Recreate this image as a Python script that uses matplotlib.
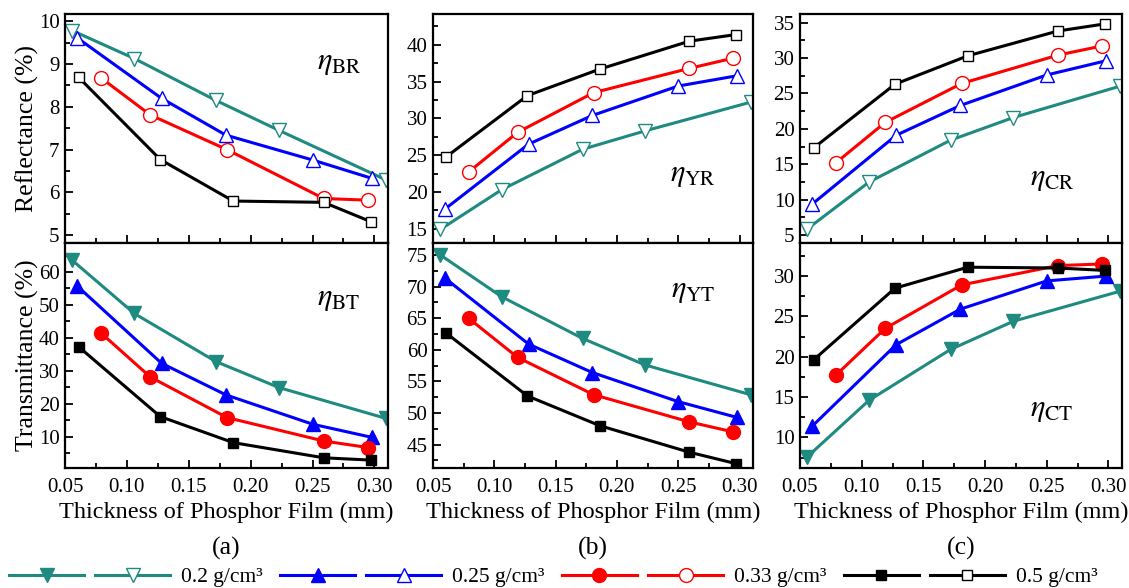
import matplotlib
matplotlib.use("Agg")
import matplotlib.pyplot as plt
from matplotlib.lines import Line2D
from matplotlib.legend_handler import HandlerTuple
from matplotlib.ticker import MultipleLocator, AutoMinorLocator

plt.rcParams["font.family"] = "serif"
plt.rcParams["font.serif"] = ["Liberation Serif", "DejaVu Serif"]
plt.rcParams["mathtext.fontset"] = "stix"

# thickness of phosphor film (mm) for each density
X_02 = [0.056, 0.106, 0.172, 0.223, 0.309]
X_025 = [0.060, 0.128, 0.180, 0.250, 0.298]
X_033 = [0.079, 0.119, 0.181, 0.259, 0.295]
X_05 = [0.061, 0.127, 0.186, 0.259, 0.297]

DENSITIES = ["0.2", "0.25", "0.33", "0.5"]
COLORS = ["#1E8A80", "#0000FF", "#FF0000", "#000000"]
MARKERS = ["v", "^", "o", "s"]

# (a) blue
BR = [[9.78, 9.13, 8.15, 7.45, 6.30],
      [9.61, 8.20, 7.34, 6.76, 6.33],
      [8.68, 7.81, 7.00, 5.86, 5.82],
      [8.69, 6.77, 5.80, 5.77, 5.32]]
BT = [[63.5, 47.4, 32.8, 24.9, 15.6],
      [55.7, 32.3, 22.7, 13.8, 9.8],
      [41.5, 28.1, 15.8, 8.7, 6.7],
      [37.3, 16.1, 8.2, 3.6, 2.9]]
# (b) yellow
YR = [[14.9, 20.3, 25.8, 28.3, 32.2],
      [17.7, 26.5, 30.4, 34.4, 35.8],
      [22.7, 28.1, 33.5, 36.8, 38.2],
      [24.8, 33.1, 36.7, 40.5, 41.4]]
YT = [[75.0, 68.4, 61.8, 57.6, 52.9],
      [71.3, 60.9, 56.4, 51.8, 49.3],
      [65.0, 58.8, 52.9, 48.6, 47.0],
      [62.6, 52.7, 48.0, 43.8, 42.0]]
# (c) chip
CR = [[5.9, 12.5, 18.4, 21.6, 26.0],
      [9.4, 19.1, 23.3, 27.6, 29.6],
      [15.2, 20.9, 26.4, 30.4, 31.7],
      [17.3, 26.3, 30.3, 33.8, 34.8]]
CT = [[7.6, 14.6, 20.9, 24.4, 28.1],
      [11.4, 21.5, 25.9, 29.4, 30.0],
      [17.7, 23.5, 28.9, 31.3, 31.5],
      [19.6, 28.5, 31.1, 31.0, 30.7]]

XS = [X_02, X_025, X_033, X_05]

PANELS = [
    # (top data, bottom data, top label, bottom label, top ylim, bottom ylim, top step, bottom step)
    (BR, BT, "BR", "BT", (4.82, 10.17), (0.5, 68.8), 1, 10),
    (YR, YT, "YR", "YT", (13.05, 44.2), (41.3, 76.9), 5, 5),
    (CR, CT, "CR", "CT", (3.9, 36.2), (6.2, 34.1), 5, 5),
]
LEFTS = [65, 433, 800]
RIGHTS = [388, 753, 1122]
ETA_POS_TOP = [(0.78, 0.79), (0.74, 0.30), (0.714, 0.28)]
ETA_POS_BOT = [(0.78, 0.755), (0.745, 0.79), (0.714, 0.26)]
TAGS = ["(a)", "(b)", "(c)"]

W, H = 1129, 588
fig = plt.figure(figsize=(W / 100, H / 100), dpi=100)


def style_axis(ax, step):
    ax.set_xlim(0.05, 0.311)
    ax.xaxis.set_major_locator(MultipleLocator(0.05))
    ax.xaxis.set_minor_locator(AutoMinorLocator(2))
    ax.yaxis.set_major_locator(MultipleLocator(step))
    ax.yaxis.set_minor_locator(AutoMinorLocator(2))
    ax.tick_params(which="both", direction="in", top=False, right=False,
                   labelsize=15, width=1.3)
    ax.tick_params(which="major", length=6)
    ax.tick_params(which="minor", length=3.5)
    ax.tick_params(axis="y", pad=4)
    ax.tick_params(axis="x", pad=7)
    for s in ax.spines.values():
        s.set_linewidth(1.6)


for i, (top, bot, tl, bl, ylt, ylb, st, sb) in enumerate(PANELS):
    left = LEFTS[i] / W
    width = (RIGHTS[i] - LEFTS[i]) / W
    ax_t = fig.add_axes([left, 1 - 243 / H, width, 229 / H])
    ax_b = fig.add_axes([left, 1 - 468 / H, width, 225 / H])

    for k in range(4):
        ms = 10 if MARKERS[k] != "s" else 7.5
        ax_t.plot(XS[k], top[k], color=COLORS[k], marker=MARKERS[k], lw=2.2,
                  ms=ms, mfc="white", mec=COLORS[k], mew=1.0)
        ax_b.plot(XS[k], bot[k], color=COLORS[k], marker=MARKERS[k], lw=2.2,
                  ms=ms, mfc=COLORS[k], mec=COLORS[k])

    ax_t.set_ylim(*ylt)
    ax_b.set_ylim(*ylb)
    style_axis(ax_t, st)
    style_axis(ax_b, sb)
    ax_t.tick_params(labelbottom=False)

    ax_t.text(*ETA_POS_TOP[i], r"$\eta_{\mathrm{%s}}$" % tl, transform=ax_t.transAxes,
              fontsize=22, ha="left", va="center")
    ax_b.text(*ETA_POS_BOT[i], r"$\eta_{\mathrm{%s}}$" % bl, transform=ax_b.transAxes,
              fontsize=22, ha="left", va="center")

    ax_b.set_xlabel("Thickness of Phosphor Film (mm)", fontsize=17.5, labelpad=4)
    ax_b.text(0.5, -0.356, TAGS[i], transform=ax_b.transAxes, fontsize=18.5,
              ha="center", va="center")

    if i == 0:
        ax_t.set_ylabel("Reflectance (%)", fontsize=18.5, labelpad=0)
        ax_b.set_ylabel("Transmittance (%)", fontsize=18.5, labelpad=0)

# legend: filled + open marker pairs for each density
handles = []
labels = []
for k in range(4):
    ms = 10 if MARKERS[k] != "s" else 7.5
    filled = Line2D([], [], color=COLORS[k], marker=MARKERS[k], lw=2.2, ms=ms,
                    mfc=COLORS[k], mec=COLORS[k])
    opened = Line2D([], [], color=COLORS[k], marker=MARKERS[k], lw=2.2, ms=ms,
                    mfc="white", mec=COLORS[k], mew=1.0)
    handles.append((filled, opened))
    labels.append(DENSITIES[k] + " g/cm³")

fig.legend(handles, labels, handler_map={tuple: HandlerTuple(ndivide=None, pad=0.5)},
           loc="center", bbox_to_anchor=(0.49, 1 - 577 / H), ncol=4, frameon=False,
           fontsize=15.5, handlelength=7.5, handletextpad=0.5, columnspacing=0.8,
           numpoints=1, borderpad=0, borderaxespad=0)

fig.savefig("out.png", dpi=100)
